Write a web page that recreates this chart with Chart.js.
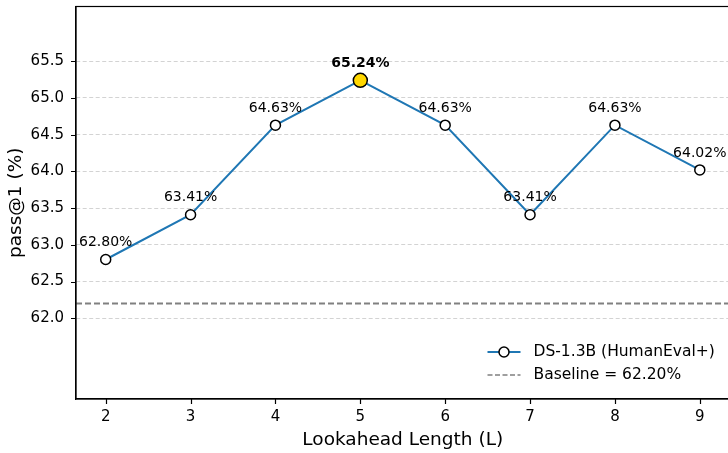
<!DOCTYPE html>
<html>
<head>
<meta charset="utf-8">
<script src="https://cdn.jsdelivr.net/npm/chart.js@4.4.1/dist/chart.umd.min.js"></script>
<style>
  html, body { margin: 0; padding: 0; background: #fff; overflow: hidden; width: 728px; height: 453px; }
  #wrap { width: 736px; height: 453px; }
</style>
</head>
<body>
<div id="wrap"><canvas id="c" width="736" height="453"></canvas></div>
<script>
// pass@1 on HumanEval+ for DS-1.3B at each lookahead length
const lookahead = [2, 3, 4, 5, 6, 7, 8, 9];
const passAt1 = [62.80, 63.41, 64.63, 65.24, 64.63, 63.41, 64.63, 64.02];
const yTicks = [62.0, 62.5, 63.0, 63.5, 64.0, 64.5, 65.0, 65.5];
const baseline = 62.20;
const seriesName = 'DS-1.3B (HumanEval+)';
const baselineName = 'Baseline = 62.20%';

const FONT = "'DejaVu Sans', 'Liberation Sans', sans-serif";
const BLUE = '#1f77b4';
const best = Math.max(...passAt1);

// axis frame, tick marks, baseline, value labels and legend
const decor = {
  id: 'decor',
  beforeDatasetsDraw(chart) {
    const { ctx, chartArea: a, scales: { y } } = chart;
    const yb = y.getPixelForValue(baseline);
    ctx.save();
    ctx.strokeStyle = '#808080';
    ctx.lineWidth = 2;
    ctx.setLineDash([6, 3]);
    ctx.beginPath();
    ctx.moveTo(a.left, yb);
    ctx.lineTo(a.right, yb);
    ctx.stroke();
    ctx.restore();
  },
  afterDatasetsDraw(chart) {
    const { ctx, chartArea: a, scales: { x, y } } = chart;
    ctx.save();
    // frame
    ctx.strokeStyle = '#000';
    ctx.lineWidth = 1.2;
    ctx.setLineDash([]);
    ctx.strokeRect(a.left, a.top, a.right - a.left, a.bottom - a.top);
    // tick marks
    ctx.beginPath();
    yTicks.forEach(v => {
      const p = Math.round(y.getPixelForValue(v)) + 0.5;
      ctx.moveTo(a.left, p);
      ctx.lineTo(a.left - 5, p);
    });
    lookahead.forEach(v => {
      const p = Math.round(x.getPixelForValue(v)) + 0.5;
      ctx.moveTo(p, a.bottom);
      ctx.lineTo(p, a.bottom + 5);
    });
    ctx.stroke();

    // value labels
    ctx.fillStyle = '#000';
    ctx.textAlign = 'center';
    ctx.textBaseline = 'middle';
    passAt1.forEach((v, i) => {
      const px = x.getPixelForValue(lookahead[i]);
      const py = y.getPixelForValue(v);
      ctx.font = (v === best ? 'bold ' : '') + '14px ' + FONT;
      ctx.fillText(v.toFixed(2) + '%', px, py - 17);
    });

    // legend
    const lx = a.right - 242;
    const ly = a.bottom - 47;
    ctx.lineWidth = 2;
    ctx.strokeStyle = BLUE;
    ctx.beginPath();
    ctx.moveTo(lx, ly);
    ctx.lineTo(lx + 33, ly);
    ctx.stroke();
    ctx.beginPath();
    ctx.arc(lx + 16.5, ly, 5, 0, Math.PI * 2);
    ctx.fillStyle = '#fff';
    ctx.fill();
    ctx.lineWidth = 1.5;
    ctx.strokeStyle = '#000';
    ctx.stroke();

    ctx.strokeStyle = '#808080';
    ctx.lineWidth = 1.5;
    ctx.setLineDash([5, 2.5]);
    ctx.beginPath();
    ctx.moveTo(lx, ly + 23);
    ctx.lineTo(lx + 33, ly + 23);
    ctx.stroke();
    ctx.setLineDash([]);

    ctx.fillStyle = '#000';
    ctx.font = '15.5px ' + FONT;
    ctx.textAlign = 'left';
    ctx.fillText(seriesName, lx + 46, ly);
    ctx.fillText(baselineName, lx + 46, ly + 23);
    ctx.restore();
  }
};

new Chart(document.getElementById('c'), {
  type: 'line',
  data: {
    datasets: [{
      label: seriesName,
      data: lookahead.map((l, i) => ({ x: l, y: passAt1[i] })),
      borderColor: BLUE,
      borderWidth: 2,
      pointRadius: passAt1.map(v => v === best ? 7 : 5),
      pointHoverRadius: passAt1.map(v => v === best ? 7 : 5),
      pointBackgroundColor: passAt1.map(v => v === best ? '#ffd700' : '#ffffff'),
      pointBorderColor: '#000',
      pointBorderWidth: 1.5,
      tension: 0,
      fill: false
    }]
  },
  options: {
    responsive: false,
    animation: false,
    events: [],
    layout: { padding: { top: 5, right: 4, left: 0, bottom: 0 } },
    plugins: { legend: { display: false }, tooltip: { enabled: false } },
    scales: {
      x: {
        type: 'linear',
        min: 1.65,
        max: 9.35,
        afterBuildTicks: s => { s.ticks = lookahead.map(v => ({ value: v })); },
        afterFit: s => { s.height = 54; s.paddingLeft = 0; s.paddingRight = 0; },
        grid: { display: false, drawTicks: false },
        border: { display: true, color: '#000', width: 1.2 },
        ticks: { color: '#000', font: { family: FONT, size: 15 }, padding: 9, maxRotation: 0 },
        title: { display: true, text: 'Lookahead Length (L)', color: '#000', font: { family: FONT, size: 18.5 }, padding: { top: 0, bottom: 2 } }
      },
      y: {
        min: 60.9,
        max: 66.246,
        afterBuildTicks: s => { s.ticks = yTicks.map(v => ({ value: v })); },
        afterFit: s => { s.width = 76; s.paddingTop = 0; s.paddingBottom = 0; },
        grid: { color: '#c8c8c8', lineWidth: 0.8, drawTicks: false },
        border: { display: true, color: '#000', width: 1.2, dash: [4, 2.5] },
        ticks: { color: '#000', font: { family: FONT, size: 15 }, padding: 12, callback: v => Number(v).toFixed(1) },
        title: { display: true, text: 'pass@1 (%)', color: '#000', font: { family: FONT, size: 18.5 }, padding: { top: 5, bottom: 0 } }
      }
    }
  },
  plugins: [decor]
});
</script>
</body>
</html>
